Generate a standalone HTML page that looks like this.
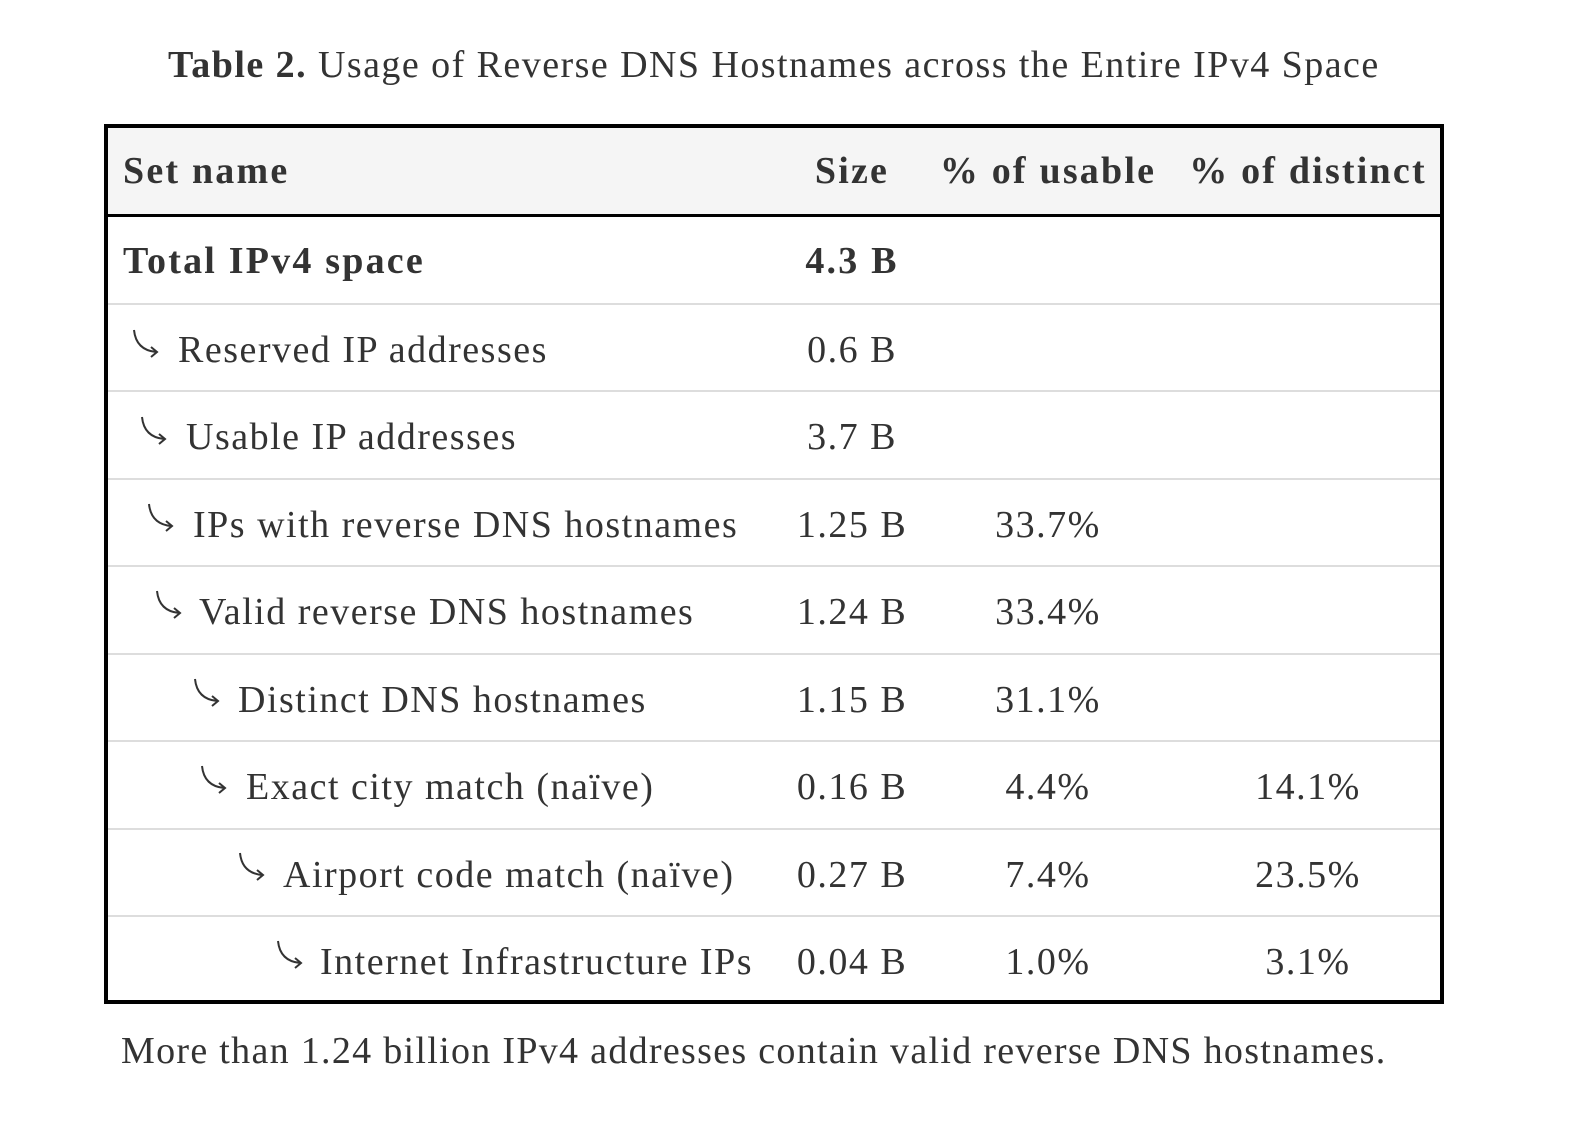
<!DOCTYPE html>
<html><head><meta charset="utf-8"><style>
body{margin:0;width:1582px;height:1132px;background:#fff;position:relative;font-family:"Liberation Serif",serif;color:#333;overflow:hidden}
.t{position:absolute;white-space:nowrap;line-height:1}
#tbl{position:absolute;left:104px;top:124px;width:1332px;height:872px;border:4px solid #000}
#hd{position:absolute;left:0;top:0;width:100%;height:86px;background:#f5f5f5;border-bottom:3px solid #000}
.rl{position:absolute;left:0;width:100%;height:0;border-top:2px solid #ddd}
.c{transform:translateX(-50%)}
.f{font-size:38px;letter-spacing:1.5px}
.b{font-weight:bold;letter-spacing:2.2px}
</style></head><body>
<div class="t" style="left:168px;top:46px;font-size:38px;letter-spacing:1.45px"><b>Table 2.</b> Usage of Reverse DNS Hostnames across the Entire IPv4 Space</div>
<div id="tbl"><div id="hd"></div>
<div class="rl" style="top:175px"></div><div class="rl" style="top:262px"></div><div class="rl" style="top:350px"></div><div class="rl" style="top:437px"></div><div class="rl" style="top:525px"></div><div class="rl" style="top:612px"></div><div class="rl" style="top:700px"></div><div class="rl" style="top:787px"></div>
</div>
<div class="t f b" style="left:123px;top:152px">Set name</div>
<div class="t f b c" style="left:852px;top:152px">Size</div>
<div class="t f b c" style="left:1048px;top:152px">% of usable</div>
<div class="t f b c" style="left:1308px;top:152px">% of distinct</div>
<div class="t f b" style="left:123px;top:242px">Total IPv4 space</div>
<div class="t f b c" style="left:852px;top:242px">4.3 B</div>
<svg style="position:absolute;left:0;top:0" width="1582" height="1132" fill="none" stroke="#333" stroke-width="2">
<defs><g id="a"><path d="M0 0 Q2 20 22 22 M17 17 L23 22 L17 27"/></g></defs>
<use href="#a" x="134" y="330"/><use href="#a" x="142" y="417"/><use href="#a" x="149" y="504"/><use href="#a" x="157" y="591"/><use href="#a" x="195" y="679"/><use href="#a" x="202" y="766"/><use href="#a" x="240" y="853"/><use href="#a" x="278" y="941"/>
</svg>
<div class="t f" style="left:178px;top:331px">Reserved IP addresses</div>
<div class="t f c" style="left:852px;top:331px">0.6 B</div>
<div class="t f" style="left:186px;top:418px">Usable IP addresses</div>
<div class="t f c" style="left:852px;top:418px">3.7 B</div>
<div class="t f" style="left:193px;top:506px">IPs with reverse DNS hostnames</div>
<div class="t f c" style="left:852px;top:506px">1.25 B</div>
<div class="t f c" style="left:1048px;top:506px">33.7%</div>
<div class="t f" style="left:199px;top:593px">Valid reverse DNS hostnames</div>
<div class="t f c" style="left:852px;top:593px">1.24 B</div>
<div class="t f c" style="left:1048px;top:593px">33.4%</div>
<div class="t f" style="left:238px;top:681px">Distinct DNS hostnames</div>
<div class="t f c" style="left:852px;top:681px">1.15 B</div>
<div class="t f c" style="left:1048px;top:681px">31.1%</div>
<div class="t f" style="left:246px;top:768px">Exact city match (naïve)</div>
<div class="t f c" style="left:852px;top:768px">0.16 B</div>
<div class="t f c" style="left:1048px;top:768px">4.4%</div>
<div class="t f c" style="left:1308px;top:768px">14.1%</div>
<div class="t f" style="left:283px;top:856px">Airport code match (naïve)</div>
<div class="t f c" style="left:852px;top:856px">0.27 B</div>
<div class="t f c" style="left:1048px;top:856px">7.4%</div>
<div class="t f c" style="left:1308px;top:856px">23.5%</div>
<div class="t f" style="left:320px;top:943px">Internet Infrastructure IPs</div>
<div class="t f c" style="left:852px;top:943px">0.04 B</div>
<div class="t f c" style="left:1048px;top:943px">1.0%</div>
<div class="t f c" style="left:1308px;top:943px">3.1%</div>
<div class="t" style="left:121px;top:1032px;font-size:38px;letter-spacing:1.3px">More than 1.24 billion IPv4 addresses contain valid reverse DNS hostnames.</div>
</body></html>
